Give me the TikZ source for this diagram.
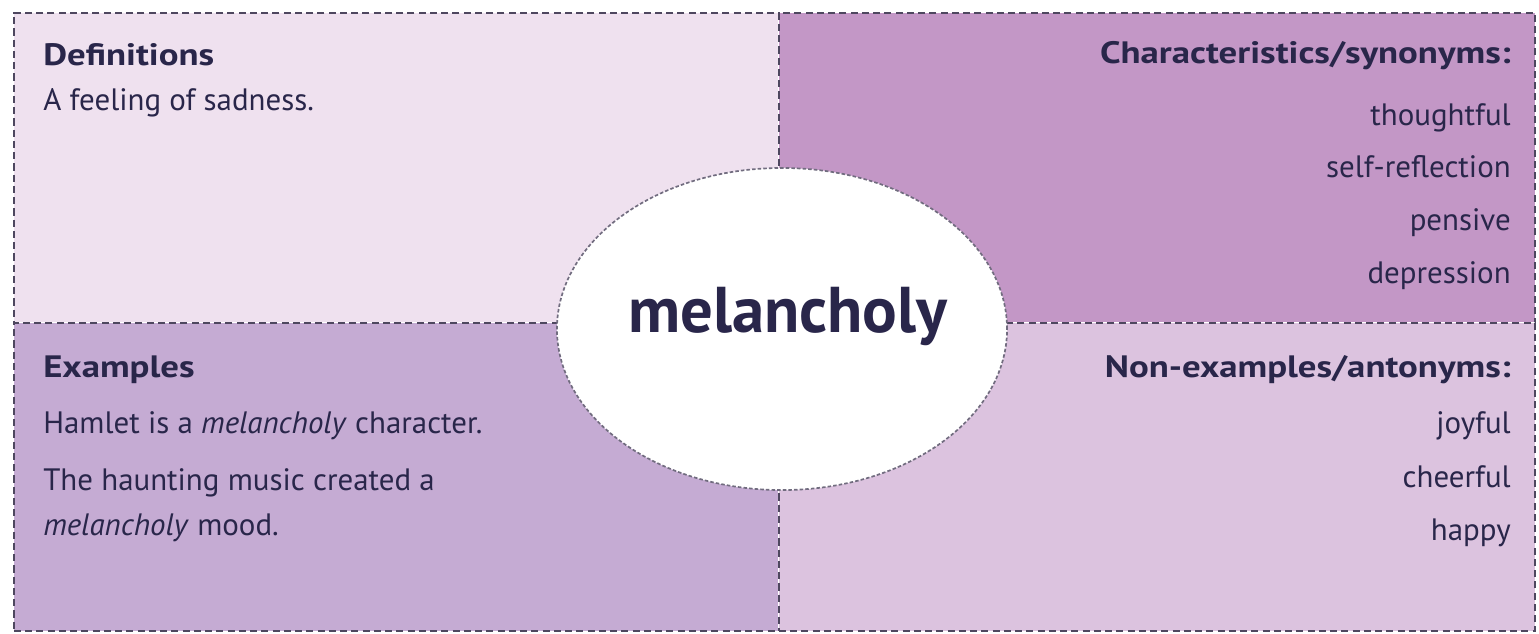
\documentclass[tikz,border=0pt]{standalone}
\usepackage{fontspec}
\setmainfont{PT Sans}
\newfontfamily\headfont[FakeStretch=1.19]{PT Sans}
\usetikzlibrary{shapes.geometric,positioning}
\definecolor{inkblue}{HTML}{29264A}
\definecolor{dashgray}{HTML}{4E475F}
\definecolor{defpink}{HTML}{EFE1EF}
\definecolor{synviolet}{HTML}{C397C6}
\definecolor{exlilac}{HTML}{C5ABD3}
\definecolor{antlilac}{HTML}{DCC3DF}
\tikzstyle{quad} = [rectangle,
                    anchor=north west,
                    inner sep=0pt,
                    draw=dashgray,
                    line width=1.1pt,
                    dash pattern=on 5pt off 3pt,
                    preaction={draw=white, solid, line width=1.1pt}]
\tikzstyle{oval} = [ellipse,
                    minimum width=11.25cm,
                    minimum height=8.05cm,
                    fill=white,
                    draw=dashgray!80,
                    line width=1.2pt,
                    dash pattern=on 2.5pt off 1.5pt]
\tikzstyle{head} = [inner sep=0pt,
                    text=inkblue,
                    font=\fontsize{22}{26}\headfont\bfseries]
\tikzstyle{body} = [inner sep=0pt,
                    text=inkblue,
                    font=\fontsize{22}{26}\selectfont]
\tikzstyle{title} = [inner sep=0pt,
                     text=inkblue,
                     font=\fontsize{46}{50}\selectfont\bfseries]

\begin{document}
\begin{tikzpicture}[x=0.025cm, y=-0.025cm]
  \useasboundingbox (0,0) rectangle (1539,633);

  % four quadrants
  \node (defbox) [quad, fill=defpink,   minimum width=19.125cm, minimum height=7.75cm] at (13,12)   {};
  \node (synbox) [quad, fill=synviolet, minimum width=18.9cm,   minimum height=7.75cm] at (778,12)  {};
  \node (exbox)  [quad, fill=exlilac,   minimum width=19.125cm, minimum height=7.7cm]  at (13,322)  {};
  \node (antbox) [quad, fill=antlilac,  minimum width=18.9cm,   minimum height=7.7cm]  at (778,322) {};

  % centre word
  \node (core) [oval] at (782,329) {};
  \node (term) [title, anchor=base] at (788,332) {melancholy};

  % definitions
  \node (defhead) [head, anchor=base west] at (43,65)  {Definitions};
  \node (deftext) [body, anchor=base west] at (43,110) {A feeling of sadness.};

  % characteristics
  \node (synhead) [head, anchor=base east] at (1511,63)  {Characteristics/synonyms:};
  \node (syn1)    [body, anchor=base east] at (1511,125) {thoughtful};
  \node (syn2)    [body, anchor=base east] at (1511,177) {self-reflection};
  \node (syn3)    [body, anchor=base east] at (1511,230) {pensive};
  \node (syn4)    [body, anchor=base east] at (1511,283) {depression};

  % examples
  \node (exhead) [head, anchor=base west] at (43,377) {Examples};
  \node (ex1)    [body, anchor=base west] at (43,433) {Hamlet is a \emph{melancholy} character.};
  \node (ex2)    [body, anchor=base west] at (43,490) {The haunting music created a};
  \node (ex3)    [body, anchor=base west] at (43,535) {\emph{melancholy} mood.};

  % non-examples
  \node (anthead) [head, anchor=base east] at (1511,377) {Non-examples/antonyms:};
  \node (ant1)    [body, anchor=base east] at (1511,433) {joyful};
  \node (ant2)    [body, anchor=base east] at (1511,487) {cheerful};
  \node (ant3)    [body, anchor=base east] at (1511,540) {happy};

\end{tikzpicture}
\end{document}
